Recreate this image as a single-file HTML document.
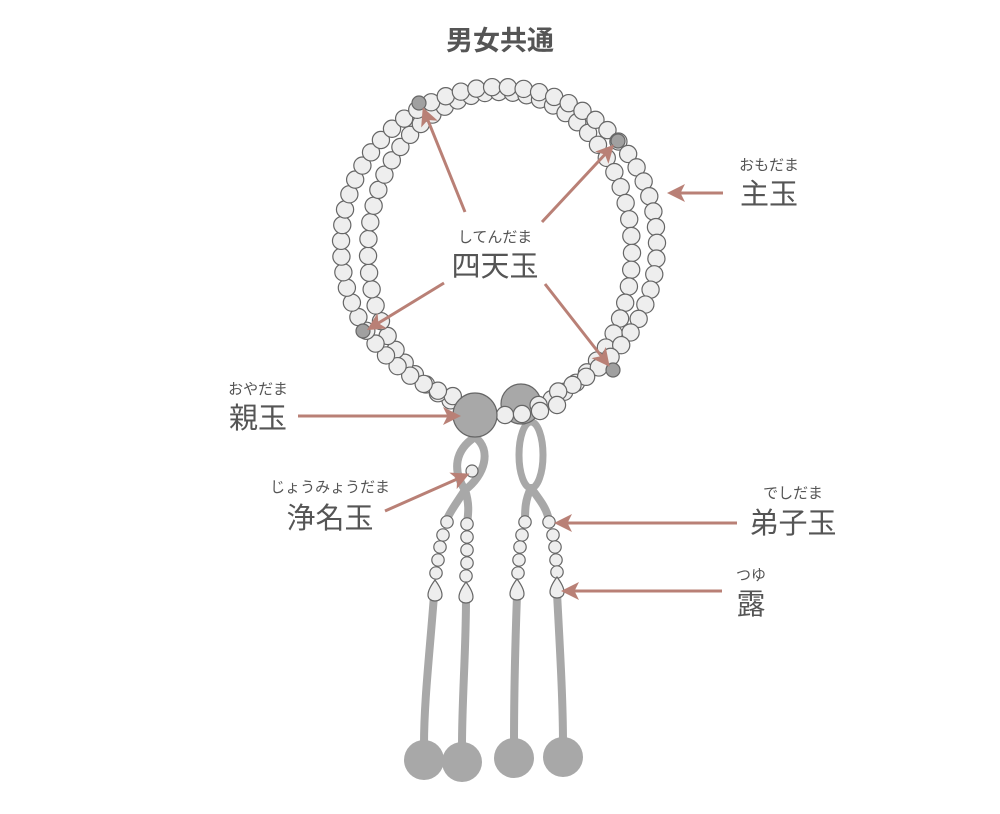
<!DOCTYPE html>
<html><head><meta charset="utf-8"><style>
body{margin:0;background:#fff;}
svg{display:block}
text{font-family:"Liberation Sans","Noto Sans CJK JP",sans-serif;fill:#555}
</style></head><body>
<svg id="s" width="1000" height="814" viewBox="0 0 1000 814" xmlns="http://www.w3.org/2000/svg">
<defs><marker id="a" markerWidth="6" markerHeight="6" refX="4" refY="3" orient="auto" markerUnits="strokeWidth"><path d="M0,0 L6,3 L0,6 L1.5,3 z" fill="#b98076"/></marker></defs>
<text x="500" y="50" font-size="27" font-weight="bold" text-anchor="middle" fill="#555">男女共通</text>
<g fill="none" stroke="#a8a8a8" stroke-width="8" stroke-linecap="round">
<path d="M475,437 C455,450 452,470 465,490 C455,505 448,515 446,522"/>
<path d="M475,437 C492,450 485,475 465,490 C470,505 468,515 467,524"/>
<path d="M434,595 C430,650 424,700 424,745"/>
<path d="M466,598 C466,650 462,700 462,745"/>
<ellipse cx="531" cy="455" rx="12" ry="33" stroke-width="7"/>
<path d="M531,488 C525,500 525,510 525,522"/>
<path d="M531,488 C540,500 548,510 549,522"/>
<path d="M517,595 C515,650 514,700 514,745"/>
<path d="M557,593 C560,650 563,700 563,745"/>
</g>
<g fill="#a8a8a8"><circle cx="424" cy="760" r="20"/><circle cx="462" cy="762" r="20"/><circle cx="514" cy="758" r="20"/><circle cx="563" cy="757" r="20"/></g>
<g id="beads" stroke="#666" stroke-width="1.2" fill="#eee"></g>
<g stroke="#b98076" stroke-width="3" fill="none" marker-end="url(#a)">
<line x1="465" y1="212" x2="425" y2="113"/>
<line x1="542" y1="222" x2="610" y2="149"/>
<line x1="444" y1="283" x2="372" y2="327"/>
<line x1="545" y1="284" x2="606" y2="362"/>
<line x1="723" y1="193" x2="673" y2="193"/>
<line x1="298" y1="416" x2="455" y2="416"/>
<line x1="385" y1="511" x2="464" y2="476"/>
<line x1="737" y1="523" x2="560" y2="523"/>
<line x1="722" y1="591" x2="567" y2="591"/>
</g>
<g>
<text x="495" y="242" font-size="15" text-anchor="middle">してんだま</text>
<text x="495" y="276" font-size="29" text-anchor="middle">四天玉</text>
<text x="769" y="170" font-size="15" text-anchor="middle">おもだま</text>
<text x="769" y="204" font-size="29" text-anchor="middle">主玉</text>
<text x="258" y="394" font-size="15" text-anchor="middle">おやだま</text>
<text x="258" y="428" font-size="29" text-anchor="middle">親玉</text>
<text x="330" y="492" font-size="15" text-anchor="middle">じょうみょうだま</text>
<text x="330" y="528" font-size="29" text-anchor="middle">浄名玉</text>
<text x="793" y="498" font-size="15" text-anchor="middle">でしだま</text>
<text x="793" y="533" font-size="29" text-anchor="middle">弟子玉</text>
<text x="751" y="580" font-size="15" text-anchor="middle">つゆ</text>
<text x="751" y="614" font-size="29" text-anchor="middle">露</text>
</g>
</svg>
<script>
var g=document.getElementById('beads'),NS='http://www.w3.org/2000/svg';
function c(x,y,r,f){var e=document.createElementNS(NS,'circle');e.setAttribute('cx',x);e.setAttribute('cy',y);e.setAttribute('r',r);if(f)e.setAttribute('fill',f);g.appendChild(e);return e;}
function ring(cx,cy,rx,ry,a0,a1,n){for(var i=0;i<n;i++){var p=(a0+(a1-a0)*i/(n-1))*Math.PI/180;c(cx-rx*Math.sin(p),cy+ry*Math.cos(p),8.6);}}
c(521,404,20,'#a8a8a8');
ring(500,252,132,160,22,343,54);
ring(499,245,158,158,17,338,57);
[[505,415],[522,414],[540,411],[557,405]].forEach(function(p){c(p[0],p[1],8.6);});
c(475,415,22,'#a8a8a8');
c(472,471,6,'#eee');
[[419,103],[618,141],[363,331],[613,370]].forEach(function(p){c(p[0],p[1],7,'#a0a0a0');});
function col(pts){pts.forEach(function(p){c(p[0],p[1],6.2);});}
col([[447,522],[443,535],[440,547],[438,560],[436,573]]);
col([[467,524],[467,537],[467,550],[467,563],[466,576]]);
col([[525,522],[522,535],[520,547],[519,560],[518,573]]);
col([[549,522],[553,535],[555,547],[556,560],[557,572]]);
function drop(x,y){var e=document.createElementNS(NS,'path');e.setAttribute('d','M'+x+','+(y-11)+' C'+(x+3)+','+(y-7)+' '+(x+7)+','+(y-1)+' '+(x+7)+','+(y+4)+' C'+(x+7)+','+(y+12)+' '+(x-7)+','+(y+12)+' '+(x-7)+','+(y+4)+' C'+(x-7)+','+(y-1)+' '+(x-3)+','+(y-7)+' '+x+','+(y-11)+'z');g.appendChild(e);}
drop(435,591);drop(466,593);drop(517,590);drop(557,588);
</script>
</body></html>
